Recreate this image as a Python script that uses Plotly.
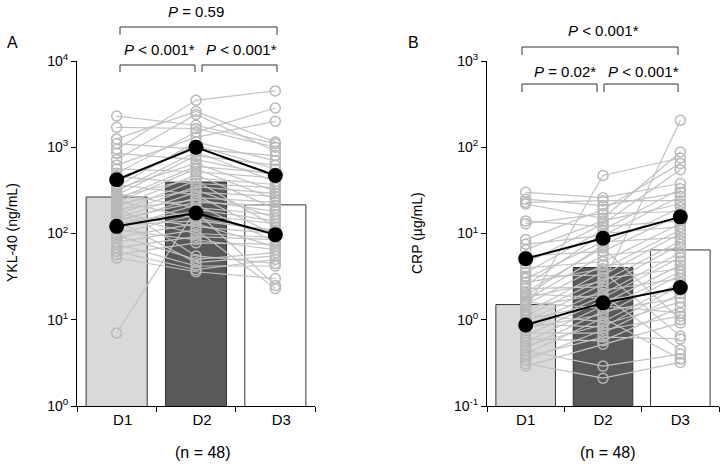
import plotly.graph_objects as go

days = ["D1", "D2", "D3"]

# Panel A: YKL-40 (ng/mL), 48 subjects
ykl_d1 = [2300, 1700, 1250, 1100, 950, 850, 720, 620, 560, 500, 460, 400, 370, 350, 330, 310,
          290, 280, 265, 250, 240, 230, 220, 210, 200, 190, 180, 170, 165, 160, 150, 145,
          140, 135, 130, 125, 115, 110, 100, 95, 90, 80, 75, 68, 62, 57, 52, 7]
ykl_d2 = [1800, 1650, 2600, 950, 3500, 720, 2400, 1300, 520, 1500, 380, 1050, 280, 1150, 650, 880,
          200, 800, 440, 600, 150, 560, 320, 55, 480, 245, 410, 120, 350, 100, 300, 230,
          46, 260, 180, 140, 215, 85, 165, 50, 130, 110, 42, 92, 38, 78, 36, 190]
ykl_d3 = [1100, 1000, 1150, 800, 4500, 470, 900, 2000, 440, 2850, 340, 560, 95, 700, 310, 400,
          165, 620, 370, 500, 105, 250, 150, 45, 195, 180, 120, 100, 290, 90, 270, 210,
          55, 230, 25, 110, 80, 65, 130, 60, 70, 23, 42, 85, 50, 75, 30, 140]
ykl_bar = [265, 395, 215]
ykl_upper = [420, 1000, 470]
ykl_lower = [121, 173, 97]

# Panel B: CRP (µg/mL), 48 subjects
crp_d1 = [30, 25, 23, 22, 14, 13, 8.5, 7.5, 6.5, 5.5, 4.5, 4.0, 3.5, 3.2, 3.0, 2.7,
          2.5, 2.3, 2.1, 2.0, 1.9, 1.8, 1.7, 1.6, 1.5, 1.4, 1.3, 1.2, 1.15, 1.1, 1.0, 0.95,
          0.9, 0.85, 0.8, 0.75, 0.7, 0.65, 0.6, 0.55, 0.5, 0.47, 0.44, 0.4, 0.37, 0.34, 0.31, 0.29]
crp_d2 = [26, 21, 24, 15, 12, 17, 19, 9.5, 14, 6.2, 13, 4.7, 11, 3.3, 8.0, 3.9,
          10, 2.4, 6.8, 1.8, 7.3, 2.8, 5.6, 1.35, 4.3, 2.0, 47, 3.6, 0.95, 3.0, 1.55, 2.6,
          0.82, 2.2, 1.15, 1.9, 0.70, 1.7, 0.57, 1.45, 0.88, 1.25, 0.29, 1.05, 0.63, 0.76, 0.21, 0.52]
crp_d3 = [38, 30, 24, 88, 14, 18, 65, 27, 22, 16.5, 55, 13, 33, 10, 9.0, 11,
          12, 7.5, 1.0, 5.3, 20, 8.2, 6.8, 3.6, 4.8, 6.0, 75, 0.65, 2.7, 3.9, 4.3, 205,
          2.5, 3.0, 3.3, 0.45, 2.0, 2.2, 1.4, 1.2, 1.6, 1.8, 0.4, 0.35, 0.6, 1.1, 0.32, 0.92]
crp_bar = [1.50, 4.03, 6.45]
crp_upper = [5.1, 8.8, 15.6]
crp_lower = [0.87, 1.57, 2.37]

bar_colors = ["#d9d9d9", "#595959", "#ffffff"]
FONT = "Liberation Sans, Arial, sans-serif"
W, H = 725, 464


def px(x):
    return x / W


def py(y):
    return (H - y) / H


def spaghetti(a, b, c):
    xs, ys = [], []
    for v1, v2, v3 in zip(a, b, c):
        xs += days + [None]
        ys += [v1, v2, v3, None]
    return xs, ys


fig = go.Figure()

panels = [
    ("x", "y", ykl_bar, (ykl_d1, ykl_d2, ykl_d3), ykl_upper, ykl_lower),
    ("x2", "y2", crp_bar, (crp_d1, crp_d2, crp_d3), crp_upper, crp_lower),
]
for xa, ya, bars, subj, up, lo in panels:
    fig.add_trace(go.Bar(x=days, y=bars, xaxis=xa, yaxis=ya, width=0.77,
                         marker=dict(color=bar_colors, line=dict(color="#333333", width=1)),
                         showlegend=False, hoverinfo="skip"))
    gx, gy = spaghetti(*subj)
    fig.add_trace(go.Scatter(x=gx, y=gy, xaxis=xa, yaxis=ya, mode="lines+markers",
                             connectgaps=False,
                             line=dict(color="#c2c2c2", width=1.2),
                             marker=dict(symbol="circle-open", size=10, color="#b8b8b8",
                                         line=dict(width=1.5, color="#b8b8b8")),
                             showlegend=False))
    for series in (up, lo):
        fig.add_trace(go.Scatter(x=days, y=series, xaxis=xa, yaxis=ya, mode="lines+markers",
                                 line=dict(color="black", width=2),
                                 marker=dict(symbol="circle", size=15, color="black"),
                                 showlegend=False))

xcommon = dict(type="category", categoryorder="array", categoryarray=days,
               range=[-0.5, 2.5], showline=True, linecolor="black", linewidth=1,
               ticks="outside", ticklen=5, tickcolor="black", tickson="boundaries",
               showgrid=False, zeroline=False, tickfont=dict(size=15, color="black"),
               automargin=False)
ycommon = dict(type="log", showline=True, linecolor="black", linewidth=1,
               ticks="outside", ticklen=5, tickcolor="black", showgrid=False,
               zeroline=False, tickfont=dict(size=14, color="black"), automargin=False,
               domain=[py(406), py(61)])

fig.update_layout(
    width=W, height=H, margin=dict(l=0, r=0, t=0, b=0),
    paper_bgcolor="white", plot_bgcolor="white",
    font=dict(family=FONT, color="black"),
    bargap=0.2,
    xaxis=dict(xcommon, domain=[px(77), px(315)], anchor="y", ticklabelshift=6),
    xaxis2=dict(xcommon, domain=[px(487), px(719)], anchor="y2"),
    yaxis=dict(ycommon, anchor="x", range=[0, 4],
               tickvals=[1, 10, 100, 1000, 10000],
               ticktext=["10<sup>0</sup>", "10<sup>1</sup>", "10<sup>2</sup>",
                         "10<sup>3</sup>", "10<sup>4</sup>"]),
    yaxis2=dict(ycommon, anchor="x2", range=[-1, 3],
                tickvals=[0.1, 1, 10, 100, 1000],
                ticktext=["10<sup>-1</sup>", "10<sup>0</sup>", "10<sup>1</sup>",
                          "10<sup>2</sup>", "10<sup>3</sup>"]),
)


def bracket(x0, x1, ytop, ybot):
    return dict(type="path", xref="paper", yref="paper",
                path=f"M {px(x0)} {py(ybot)} L {px(x0)} {py(ytop)} L {px(x1)} {py(ytop)} L {px(x1)} {py(ybot)}",
                line=dict(color="#333333", width=1))


shapes = [
    bracket(120, 277, 27, 35), bracket(120, 195, 65, 72), bracket(202, 277, 65, 72),
    bracket(522, 678, 47, 55), bracket(522, 597, 84, 92), bracket(604, 678, 84, 92),
]
fig.update_layout(shapes=shapes)


def ann(text, x, y, size=15, angle=0):
    fig.add_annotation(text=text, x=px(x), y=py(y), xref="paper", yref="paper",
                       showarrow=False, xanchor="center", yanchor="middle",
                       textangle=angle, font=dict(size=size, color="black", family=FONT))


ann("<i>P</i> = 0.59", 196, 12)
ann("<i>P</i> < 0.001*", 159, 50)
ann("<i>P</i> < 0.001*", 241, 50)
ann("<i>P</i> < 0.001*", 603, 30)
ann("<i>P</i> = 0.02*", 565, 71)
ann("<i>P</i> < 0.001*", 643, 71)
ann("A", 12, 43, size=16)
ann("B", 413, 43, size=16)
ann("(n = 48)", 203, 452, size=16)
ann("(n = 48)", 608, 452, size=16)
ann("YKL-40 (ng/mL)", 12, 233, size=14, angle=-90)
ann("CRP (µg/mL)", 417, 233, size=14, angle=-90)

fig.write_html("out.html", post_script="document.body.style.margin='0px';",
               config={"displayModeBar": False})
